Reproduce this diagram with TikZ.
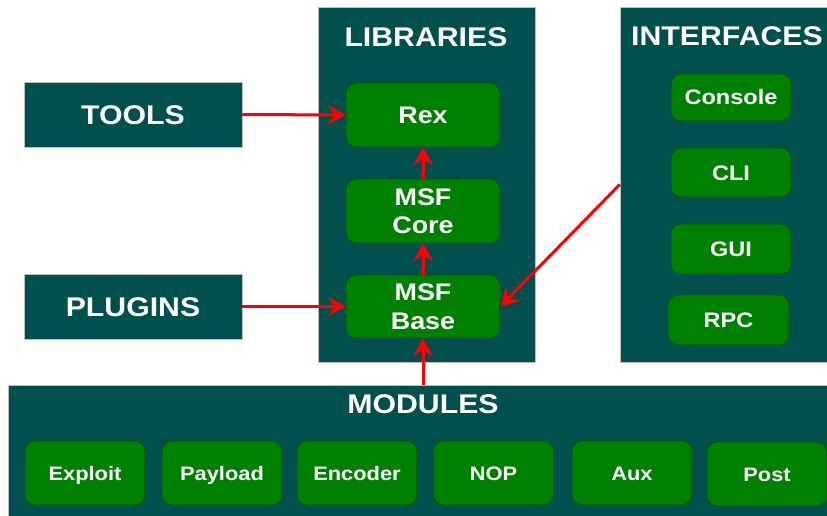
\documentclass[tikz,border=0pt]{standalone}
\usepackage{fontspec}
\setmainfont{Liberation Sans}[FakeStretch=1.12]
\usetikzlibrary{arrows.meta}
\definecolor{panel}{RGB}{1,80,78}
\definecolor{gbox}{RGB}{0,128,0}
\definecolor{gedge}{RGB}{0,80,20}
\definecolor{arr}{RGB}{255,0,0}
\begin{document}
\begin{tikzpicture}[x=1pt,y=-1pt,
  panelbox/.style={fill=panel,draw=gray!50,line width=0.5pt,inner sep=0pt,rectangle},
  headbox/.style={panelbox,minimum width=218pt,minimum height=65pt,text=white,
     font=\bfseries\fontsize{27}{32}\selectfont,text height=19.5pt,text depth=0pt},
  greenbox/.style={fill=gbox,draw=gedge,line width=0.8pt,rounded corners=10pt,inner sep=0pt,
     text=white,font=\bfseries\fontsize{24}{28.5}\selectfont,align=center},
  smallbox/.style={greenbox,text height=15pt,text depth=0pt,font=\bfseries\fontsize{21}{25}\selectfont},
  modbox/.style={greenbox,text height=14pt,text depth=0pt,minimum width=120pt,minimum height=64pt,font=\bfseries\fontsize{19.5}{23}\selectfont},
  title/.style={text=white,font=\bfseries\fontsize{27}{32}\selectfont,inner sep=0pt,text height=19.5pt,text depth=0pt},
  conn/.style={draw=arr,line width=3pt,-{Stealth[length=18pt,width=20pt,inset=7pt]}}]
\useasboundingbox (0,0) rectangle (827,516);
\fill[white] (0,0) rectangle (827,516);
% panels
\node[headbox] (tools) at (133,114.5) {TOOLS};
\node[headbox] (plugins) at (133,306.5) {PLUGINS};
\node[panelbox,minimum width=217pt,minimum height=355pt] (lib) at (426.5,184.5) {};
\node[panelbox,minimum width=215pt,minimum height=355pt] (intf) at (727.5,184.5) {};
\node[panelbox,minimum width=827pt,minimum height=145pt] (mod) at (421.5,457.5) {};
\node[title] (libt) at (426,37) {LIBRARIES};
\node[title] (intft) at (727,36) {INTERFACES};
\node[title] (modt) at (423,404) {MODULES};
% libraries
\node[greenbox,text height=17pt,text depth=0pt,minimum width=154pt,minimum height=64pt] (rex) at (423,115) {Rex};
\node[greenbox,minimum width=154pt,minimum height=64pt] (core) at (423,211) {MSF\\Core};
\node[greenbox,minimum width=154pt,minimum height=63pt] (base) at (423,306.5) {MSF\\Base};
% interfaces
\node[smallbox,minimum width=120pt,minimum height=47pt] (console) at (731,97.5) {Console};
\node[smallbox,minimum width=120pt,minimum height=49pt] (cli) at (731,172.5) {CLI};
\node[smallbox,minimum width=120pt,minimum height=50pt] (gui) at (731,249) {GUI};
\node[smallbox,minimum width=121pt,minimum height=50pt] (rpc) at (728.5,320) {RPC};
% modules
\node[modbox] (exploit) at (85,473) {Exploit};
\node[modbox] (payload) at (222,473) {Payload};
\node[modbox] (encoder) at (357,473) {Encoder};
\node[modbox] (nop) at (493.5,473) {NOP};
\node[modbox] (aux) at (632,473) {Aux};
\node[modbox] (post) at (767,474) {Post};
% connectors
\draw[conn] (tools.east) -- (rex.west);
\draw[conn] (plugins.east) -- (base.west);
\draw[conn] (core.north) -- (rex.south);
\draw[conn] (base.north) -- (core.south);
\draw[conn] (mod.north -| base.south) -- (base.south);
\draw[conn] (intf.west) -- (base.east);
\end{tikzpicture}
\end{document}
